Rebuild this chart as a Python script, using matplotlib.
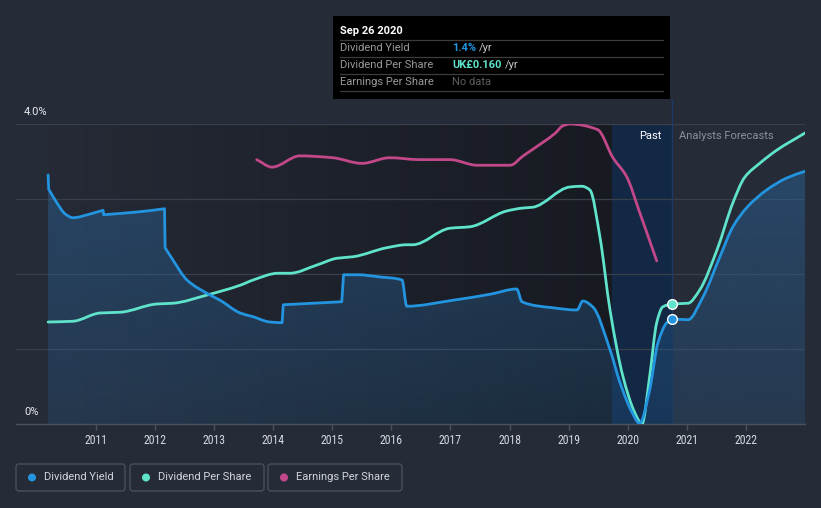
import numpy as np
import matplotlib
matplotlib.use("Agg")
import matplotlib.pyplot as plt
from matplotlib.patches import FancyBboxPatch, Rectangle, Circle, PathPatch
from matplotlib.path import Path
from matplotlib.colors import to_rgb
from matplotlib import font_manager

# ---------------- data ----------------
dy_years = [2010.19, 2010.20, 2010.33, 2010.48, 2010.61, 2010.90, 2011.12, 2011.13, 2011.74,
            2012.16, 2012.17, 2012.30, 2012.54, 2012.93, 2013.10, 2013.44, 2013.66, 2013.94,
            2014.15, 2014.17, 2015.16, 2015.19, 2015.42, 2015.81, 2016.18, 2016.26, 2017.04,
            2017.67, 2018.12, 2018.21, 2018.73, 2019.14, 2019.24, 2019.41, 2019.70, 2019.87,
            2020.07, 2020.20, 2020.37, 2020.51, 2020.66, 2020.75, 2021.02, 2021.27, 2021.56,
            2021.78, 2022.02, 2022.35, 2022.69, 2023.00]
dy_values = [3.32, 3.13, 2.96, 2.80, 2.75, 2.80, 2.85, 2.79, 2.83,
             2.87, 2.35, 2.19, 1.92, 1.72, 1.65, 1.48, 1.43, 1.36,
             1.35, 1.59, 1.63, 1.99, 1.99, 1.96, 1.92, 1.57, 1.65,
             1.73, 1.80, 1.63, 1.55, 1.52, 1.64, 1.56, 0.99, 0.55,
             0.16, 0.01, 0.45, 1.08, 1.35, 1.40, 1.39, 1.69, 2.23,
             2.63, 2.89, 3.12, 3.28, 3.37]

dps_years = [2010.19, 2010.61, 2011.07, 2011.41, 2012.03, 2012.30, 2012.88, 2013.44, 2013.66,
             2014.08, 2014.28, 2014.74, 2015.08, 2015.35, 2015.92, 2016.26, 2016.36, 2016.99,
             2017.33, 2017.95, 2018.23, 2018.39, 2019.02, 2019.22, 2019.36, 2019.53, 2019.70,
             2019.92, 2020.12, 2020.24, 2020.37, 2020.49, 2020.59, 2020.75, 2021.02, 2021.22,
             2021.51, 2021.78, 2021.98, 2022.24, 2022.52, 2023.00]
dps_values = [0.136, 0.137, 0.148, 0.149, 0.160, 0.161, 0.172, 0.185, 0.192,
              0.201, 0.201, 0.212, 0.221, 0.223, 0.235, 0.239, 0.239, 0.261,
              0.263, 0.284, 0.288, 0.289, 0.316, 0.317, 0.312, 0.249, 0.152,
              0.063, 0.015, 0.000, 0.063, 0.135, 0.156, 0.160, 0.161, 0.179,
              0.232, 0.295, 0.329, 0.348, 0.365, 0.388]

eps_years = [2013.72, 2013.98, 2014.45, 2015.01, 2015.50, 2015.97, 2016.48, 2016.99, 2017.45,
             2018.01, 2018.23, 2018.60, 2018.77, 2018.90, 2019.02, 2019.49, 2019.75, 2019.98,
             2020.20, 2020.49]
eps_values = [0.141, 0.137, 0.143, 0.142, 0.139, 0.142, 0.141, 0.141, 0.138,
              0.138, 0.143, 0.151, 0.155, 0.159, 0.160, 0.157, 0.142, 0.132,
              0.113, 0.087]

year_ticks = list(range(2011, 2023))
past_start = 2019.73
today = 2020.75
tip_date = "Sep 26 2020"
tip_dy = "1.4%"
tip_dps = "UK£0.160"

DPS_SCALE = 10.0   # UK£ -> chart units
EPS_SCALE = 25.0   # UK£ -> chart units

# ---------------- fonts ----------------
names = {f.name for f in font_manager.fontManager.ttflist}
FONT = "Roboto" if "Roboto" in names else "DejaVu Sans"
NARROW = FONT
for cand in ["Roboto Condensed", "Liberation Sans Narrow"]:
    if cand in names:
        NARROW = cand
        break
plt.rcParams["font.family"] = [FONT, "DejaVu Sans"]

# ---------------- style ----------------
BG = "#252b37"
C_DY = "#2394df"
C_DPS = "#5fe3cb"
C_EPS = "#c2488a"
GRID = "#3a404b"
STEP = 0.03  # segments shorter than this (years) are drawn as jumps


def smooth_path(x, y):
    """Monotone cubic curve through the points, returned as Bezier path data."""
    x = np.asarray(x, float)
    y = np.asarray(y, float)
    n = len(x)
    h = np.diff(x)
    d = np.diff(y) / h
    m = np.zeros(n)
    m[0], m[-1] = d[0], d[-1]
    for k in range(1, n - 1):
        if h[k - 1] < STEP:
            m[k] = d[k]
        elif h[k] < STEP:
            m[k] = d[k - 1]
        elif d[k - 1] * d[k] <= 0:
            m[k] = 0.0
        else:
            w1 = 2 * h[k] + h[k - 1]
            w2 = h[k] + 2 * h[k - 1]
            m[k] = (w1 + w2) / (w1 / d[k - 1] + w2 / d[k])
    verts = [(x[0], y[0])]
    codes = [Path.MOVETO]
    for k in range(n - 1):
        if h[k] < STEP:
            verts.append((x[k + 1], y[k + 1]))
            codes.append(Path.LINETO)
            continue
        verts += [(x[k] + h[k] / 3, y[k] + m[k] * h[k] / 3),
                  (x[k + 1] - h[k] / 3, y[k + 1] - m[k + 1] * h[k] / 3),
                  (x[k + 1], y[k + 1])]
        codes += [Path.CURVE4] * 3
    return verts, codes


W, H = 821, 508
fig = plt.figure(figsize=(W / 100, H / 100), dpi=100)
fig.patch.set_facecolor(BG)

PX_PER_YEAR = 59.1
xmin = 2011 + (16 - 96) / PX_PER_YEAR
xmax = 2023.0
ax = fig.add_axes([16 / W, (H - 424) / H, (805 - 16) / W, 300 / H])
ax.set_facecolor(BG)

# dark "past" region with horizontal gradient
c0 = np.array(to_rgb("#252a36"))
c1 = np.array(to_rgb("#171a21"))
grad = np.linspace(0, 1, 256)[None, :, None]
img = c0 + (c1 - c0) * grad
ax.imshow(img, extent=[dy_years[0], past_start, 0, 4], aspect="auto", zorder=0.5,
          interpolation="bilinear")
# highlighted band
ax.axvspan(past_start, today, color="#132845", zorder=0.6, lw=0)

# grid
for yv in [1, 2, 3, 4]:
    ax.axhline(yv, color=GRID, lw=0.9, zorder=1)

# fill under dividend yield with vertical gradient
v, c = smooth_path(dy_years, dy_values)
fv = v + [(dy_years[-1], 0), (dy_years[0], 0), (dy_years[0], dy_values[0])]
fc = c + [Path.LINETO, Path.LINETO, Path.CLOSEPOLY]
fill_path = Path(fv, fc)
fill_cols = np.zeros((256, 1, 4))
fill_cols[:, 0, :3] = np.array(to_rgb("#2b6aa3"))
fill_cols[:, 0, 3] = np.linspace(0.45, 0.22, 256)
im = ax.imshow(fill_cols, extent=[dy_years[0], dy_years[-1], 0, 3.5], aspect="auto",
               zorder=1.2, interpolation="bilinear", origin="upper")
im.set_clip_path(fill_path, transform=ax.transData)

ax.set_xlim(xmin, xmax)
ax.set_ylim(0, 4)

# vertical marker line
ax.plot([today, today], [0, 4 + 25 / 75], color="#1d3a63", lw=1, zorder=1.5, clip_on=False)

lw = 2.0
for xs, ys, col, z in [(eps_years, [e * EPS_SCALE for e in eps_values], C_EPS, 3),
                       (dps_years, [e * DPS_SCALE for e in dps_values], C_DPS, 3.2),
                       (dy_years, dy_values, C_DY, 3.4)]:
    vv, cc = smooth_path(xs, ys)
    ax.add_patch(PathPatch(Path(vv, cc), facecolor="none", edgecolor=col, lw=lw,
                           zorder=z, capstyle="round", joinstyle="round"))

# markers at tooltip date
i_dy = dy_years.index(today)
i_dps = dps_years.index(today)
ax.plot([today], [dps_values[i_dps] * DPS_SCALE], "o", ms=7, mfc=C_DPS, mec="white", mew=1, zorder=5)
ax.plot([today], [dy_values[i_dy]], "o", ms=7, mfc=C_DY, mec="white", mew=1, zorder=5)

# axes styling
for s in ["top", "right", "left"]:
    ax.spines[s].set_visible(False)
ax.spines["bottom"].set_color("#4b515c")
ax.spines["bottom"].set_linewidth(1)
ax.set_yticks([])
ax.set_xticks(year_ticks)
ax.set_xticklabels([str(y) for y in year_ticks], fontfamily=[NARROW, "DejaVu Sans"])
ax.tick_params(axis="x", colors="#4b515c", length=4, width=1, pad=3, labelsize=8.5,
               labelcolor="#d6d9de")

# ---------------- overlay in pixel coordinates ----------------
ov = fig.add_axes([0, 0, 1, 1], zorder=10)
ov.set_xlim(0, W)
ov.set_ylim(H, 0)
ov.axis("off")
ov.patch.set_alpha(0)

ov.text(24, 112, "4.0%", color="#e8eaee", fontsize=8, va="center", ha="left")
ov.text(24, 412, "0%", color="#e8eaee", fontsize=8, va="center", ha="left")

ov.text(662, 136, "Past", color="#ffffff", fontsize=8, va="center", ha="right")
ov.text(679, 136, "Analysts Forecasts", color="#8b919b", fontsize=8, va="center", ha="left")

# tooltip
ov.add_patch(Rectangle((333, 16), 337, 83, facecolor="black", edgecolor="none"))
ov.text(340, 31, tip_date, color="white", fontsize=8, fontweight="bold", va="center")
for yy in [40, 57, 74, 91]:
    ov.plot([340, 663], [yy, yy], color="#3d3d3d", lw=0.9)
rows = [("Dividend Yield", 48), ("Dividend Per Share", 65), ("Earnings Per Share", 82)]
for lab, yy in rows:
    ov.text(340, yy, lab, color="#9a9a9a", fontsize=8, va="center")
t1 = ov.text(452, 48, tip_dy, color=C_DY, fontsize=8, va="center", fontweight="bold")
t2 = ov.text(452, 65, tip_dps, color=C_DPS, fontsize=8, va="center", fontweight="bold")
ov.text(452, 82, "No data", color="#5e5e5e", fontsize=8, va="center")
fig.canvas.draw()
r = fig.canvas.get_renderer()
for t, yy in [(t1, 48), (t2, 65)]:
    bb = t.get_window_extent(r)
    ov.text(bb.x1 + 3, yy, "/yr", color="#c8c8c8", fontsize=8, va="center")

# legend
items = [("Dividend Yield", C_DY, 16, 125), ("Dividend Per Share", C_DPS, 130, 264),
         ("Earnings Per Share", C_EPS, 268, 402)]
for lab, col, x0, x1 in items:
    ov.add_patch(FancyBboxPatch((x0, 464), x1 - x0, 27, boxstyle="round,pad=0,rounding_size=3",
                                facecolor="none", edgecolor="#4a505b", lw=1))
    ov.add_patch(Circle((x0 + 16, 477.5), 4, facecolor=col, edgecolor="none"))
    ov.text(x0 + 28, 477.5, lab, color="#d2d5da", fontsize=8, va="center", ha="left")

fig.savefig("out.png", dpi=100, facecolor=BG)
